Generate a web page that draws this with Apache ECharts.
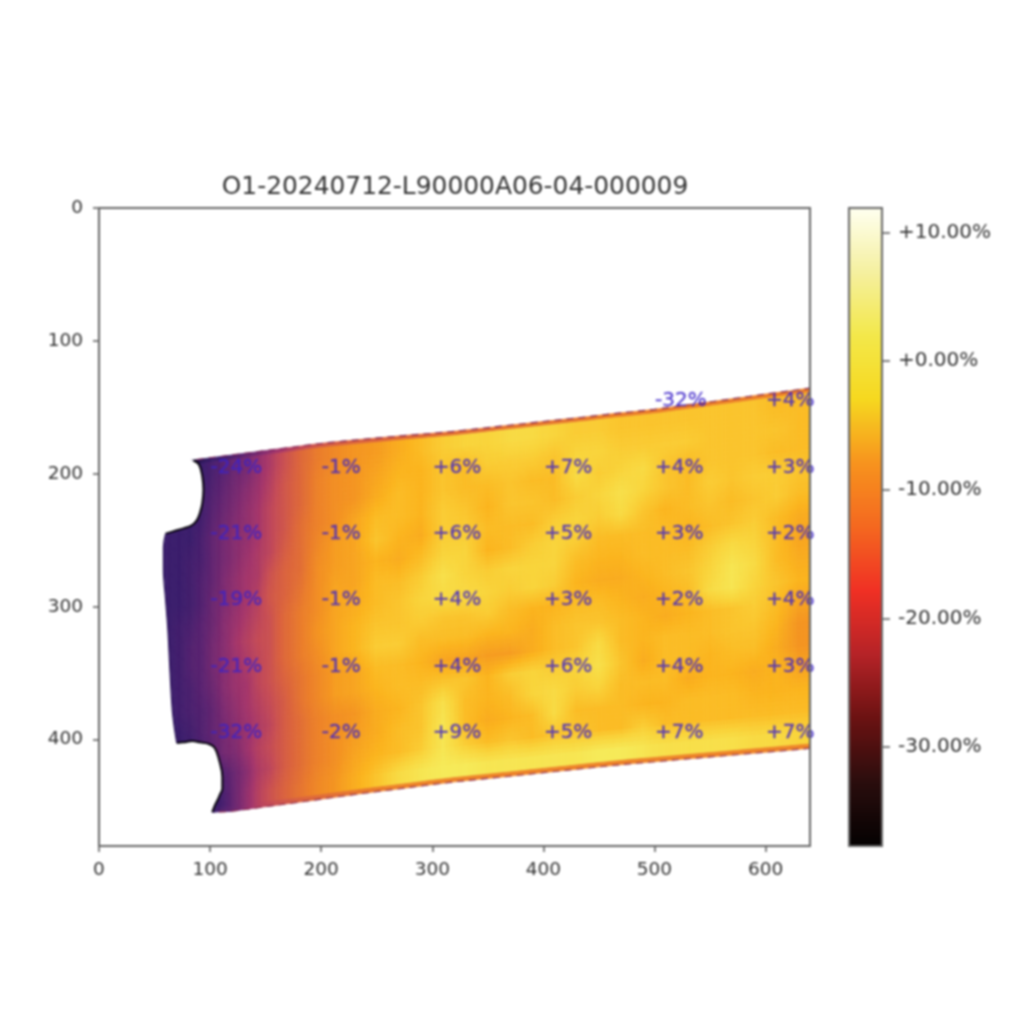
<!DOCTYPE html>
<html><head><meta charset="utf-8">
<style>html,body{margin:0;padding:0;background:#fff}#c{width:1024px;height:1024px;filter:blur(0.9px)}</style>
<script src="https://cdn.jsdelivr.net/npm/echarts@6/dist/echarts.min.js"></script>
</head><body><div id="c"></div>
<script>
const titleText = 'O1-20240712-L90000A06-04-000009';
const xTicks = [0,100,200,300,400,500,600];
const yTicks = [0,100,200,300,400];
const barTicks = [-30,-20,-10,0,10];
const colEdges = [58,68,78,88,98,108,118,128,138,148,160,175,190,205,220,240,260,280,300,320,340,360,380,400,420,440,460,480,500,520,540,560,580,600,620,640];
const topEdge = [192.6,191.5,190.4,189.3,188.2,187.1,186,184.9,183.8,182.7,181.4,179.8,178.1,176.6,175.4,173.8,172.3,170.8,169.5,168,166.2,164.3,162.5,160.6,158.8,157,155,153.3,151.5,149.2,147,144.7,142.4,140,137.8,135.5];
const bottomEdge = [456,456,456,455.5,455,454.3,454,452.9,451.8,450.6,449.3,447.6,445.9,444.1,442.4,440.1,438,435.9,433.7,431.7,430,428.3,426.6,424.8,423.1,421.3,419.6,418,416.6,415.1,413.7,412.3,410.8,409.4,408,406.5];
const rowEdges = [0,.012,.074,.135,.196,.258,.319,.380,.440,.500,.560,.620,.681,.742,.804,.865,.926,.988,1];
const cells = [
[-33,-33,-33,-32,-30,-29,-27,-25,-23,-20,-17,-14,-12,-11,-10,-10,-9,-9,-8,-8,-8,-7,-7,-7,-7,-6,-6,-6,-6,-6,-6,-6,-6,-6,-6],
[-32,-32,-31,-30,-28,-26,-24,-23,-20,-17,-13,-9,-6,-4,-2,-1,1,3,5,6,6,7,7,6,5,5,4,4,4,4,4,4,4,3,3],
[-31,-31,-30,-29,-27,-25,-23,-21,-19,-16,-12,-9,-5,-3,-2,0,2,2,4,3,5,5,5,4,6,6,5,5,5,5,4,4,4,4,3],
[-30,-30,-30,-29,-26,-24,-22,-20,-18,-15,-12,-9,-5,-3,-2,1,3,2,4,3,3,4,3,3,7,5,6,7,4,3,4,4,4,3,3],
[-30,-30,-30,-28,-25,-23,-21,-20,-18,-15,-12,-8,-5,-3,0,3,3,2,5,4,2,4,4,3,5,6,8,6,4,3,5,4,5,5,4],
[-30,-30,-29,-28,-25,-23,-21,-19,-17,-15,-11,-8,-4,-1,0,4,2,1,5,5,3,3,3,5,6,5,7,4,2,3,4,3,4,5,3],
[-30,-30,-29,-27,-25,-22,-20,-18,-17,-13,-10,-8,-3,-1,0,2,1,3,6,6,2,3,5,6,5,3,3,3,3,2,3,4,5,3,1],
[-30,-30,-29,-27,-24,-22,-20,-18,-16,-12,-10,-7,-3,0,0,3,3,5,8,6,5,6,6,6,3,2,2,3,3,3,5,7,6,3,0],
[-30,-29,-28,-26,-24,-21,-19,-17,-15,-13,-9,-6,-3,0,1,3,4,6,7,7,6,5,6,5,2,1,1,2,3,4,6,9,7,3,1],
[-30,-29,-27,-26,-23,-21,-18,-16,-14,-13,-9,-6,-2,0,2,4,4,5,4,4,5,3,2,2,3,3,2,1,2,3,7,9,6,4,2],
[-30,-29,-27,-26,-23,-21,-19,-17,-15,-13,-9,-6,-3,0,2,5,5,3,3,3,2,2,1,3,4,4,3,2,1,2,3,4,5,3,0],
[-30,-29,-28,-26,-24,-21,-19,-18,-15,-13,-10,-7,-4,-1,0,3,3,2,0,0,-1,-1,1,3,4,7,3,2,3,3,3,4,4,2,-2],
[-30,-29,-28,-27,-25,-22,-20,-18,-16,-14,-11,-7,-4,-1,0,2,3,3,4,4,2,5,6,5,6,8,4,1,3,3,2,3,3,1,-2],
[-31,-30,-29,-27,-25,-23,-21,-19,-17,-15,-11,-8,-5,-3,-2,1,2,4,8,3,2,3,6,7,5,6,3,3,3,1,2,2,1,2,0],
[-33,-31,-30,-28,-26,-23,-22,-19,-16,-14,-11,-8,-5,-3,-1,1,3,4,9,3,1,2,3,7,3,3,3,2,2,3,3,3,2,2,2],
[-35,-34,-33,-32,-30,-27,-24,-21,-17,-15,-11,-8,-5,-3,0,2,3,5,9,5,3,4,3,4,4,3,3,5,3,3,3,3,3,3,3],
[-35,-34,-33,-32,-31,-28,-24,-20,-16,-13,-10,-7,-4,-2,1,4,7,9,10,10,9,9,9,9,9,10,10,9,8,8,8,8,7,7,6],
[-34,-33,-33,-32,-30,-27,-24,-20,-16,-14,-12,-10,-9,-8,-7,-6,-5,-5,-5,-5,-5,-5,-5,-5,-5,-5,-5,-5,-5,-5,-5,-5,-5,-5,-5]
];
const maskXs = [50,85,90,93,94,93,91,88,83,76,68,60,58,58,60,62,64,66,68,70,76,84,91,98,104,108,111,111,109,107,104,102,97,50];
const maskYs = [185,190,193,202,212,222,229,235,239,241,243,245,255,272,295,317,350,378,392,402.5,402,401,402,403,406,415,428,437,441,445,450,454.5,463,463];
const notchUpperXs = [85,90,93,94,93,91,88,83,76,68,60];
const notchUpperYs = [190,193,202,212,222,229,235,239,241,243,245];
const notchLowerXs = [70,76,84,91,98,104,108,111,111,109,107,104,102];
const notchLowerYs = [402.5,402,401,402,403,406,415,428,437,441,445,450,454.5];
const leftXs = [60,58,58,60,62,64,66,68,70];
const leftYs = [245,255,272,295,317,350,378,392,402.5];
const labelXs = [500,600,100,200,300,400,500,600,100,200,300,400,500,600,100,200,300,400,500,600,100,200,300,400,500,600,100,200,300,400,500,600];
const labelYs = [150,150,200,200,200,200,200,200,250,250,250,250,250,250,300,300,300,300,300,300,350,350,350,350,350,350,400,400,400,400,400,400];
const labelTexts = ['-32%','+4%','-24%','-1%','+6%','+7%','+4%','+3%','-21%','-1%','+6%','+5%','+3%','+2%','-19%','-1%','+4%','+3%','+2%','+4%','-21%','-1%','+4%','+6%','+4%','+3%','-32%','-2%','+9%','+5%','+7%','+7%'];
const meshColors = ['#1c0f42','#3a1c6b','#5a2270','#7d2a70','#a3346a','#c44a56','#da623d','#ea7c2a','#f49420','#fbb41d','#f9d43a','#f6ea58'];
const barColors = ['#040202','#2a0d0d','#6b1212','#b52327','#f03024','#f4681f','#f7931e','#f6d81f','#f3e84a','#f5f0a0','#fffff0'];

const FONT = 'DejaVu Sans';
const SUB = 5;
const meshData = [];
cells.forEach((row, r) => row.forEach((v, c) => meshData.push([c, r, v])));
const zipXY = (xs, ys) => xs.map((x, i) => [x, ys[i]]);
const edgePoints = (ys, fromX) => zipXY(colEdges, ys).filter(q => q[0] >= fromX);
const edgeLine = (ys, fromX, color, width, dash) => ({
  type:'line', data: edgePoints(ys, fromX), showSymbol:false, silent:true, clip:false, z:4,
  lineStyle:{color, width, type:dash || 'solid'}
});
const outline = (xs, ys, color, width) => ({
  type:'line', data: zipXY(xs, ys), smooth:0.4, showSymbol:false, silent:true, z:5, clip:false,
  lineStyle:{color, width}
});
const lastCol = cells[0].length - 1, lastRow = cells.length - 1;
const mix = (a, b, t) => a + (b - a) * t;
function sampleValue(fc, fr, r){
  // display smoothing of the read cells, as imshow's interpolation does; thin fringe rows stay on their own
  const c0 = Math.max(0, Math.min(lastCol, Math.floor(fc))), c1 = Math.min(lastCol, c0 + 1);
  const tc = Math.max(0, Math.min(1, fc - c0));
  if (r === 0 || r === lastRow) return mix(cells[r][c0], cells[r][c1], tc);
  const rr = Math.max(1, Math.min(lastRow - 1, fr));
  const r0 = Math.floor(rr), r1 = Math.min(lastRow - 1, r0 + 1), tr = rr - r0;
  return mix(mix(cells[r0][c0], cells[r0][c1], tc), mix(cells[r1][c0], cells[r1][c1], tc), tr);
}
function meshPoint(api, ci, ri){
  const i0 = Math.min(colEdges.length - 2, Math.floor(ci)), tx = ci - i0;
  const j0 = Math.min(rowEdges.length - 2, Math.floor(ri)), ty = ri - j0;
  const v = mix(rowEdges[j0], rowEdges[j0 + 1], ty);
  const x = mix(colEdges[i0], colEdges[i0 + 1], tx);
  const t = mix(topEdge[i0], topEdge[i0 + 1], tx), b = mix(bottomEdge[i0], bottomEdge[i0 + 1], tx);
  return api.coord([x, t + v * (b - t)]);
}
const chart = echarts.init(document.getElementById('c'), null, {renderer:'canvas'});
chart.setOption({
  animation:false, backgroundColor:'#fff',
  title:{text:titleText, left:450, top:170, textAlign:'center',
    textStyle:{fontFamily:FONT, fontSize:24.9, fontWeight:'normal', color:'#333'}},
  grid:[
    {left:99, top:208, width:711, height:638, show:true, borderColor:'#666', borderWidth:2, z:8, backgroundColor:'transparent'},
    {left:849, top:208, width:33, height:638, show:true, borderColor:'#666', borderWidth:2, z:8, backgroundColor:'transparent'}
  ],
  xAxis:[
    {type:'value', gridIndex:0, min:0, max:640, position:'bottom', splitLine:{show:false},
     axisLine:{show:false, onZero:false}, axisTick:{show:true, length:6, lineStyle:{color:'#555',width:1.5}, customValues:xTicks},
     axisLabel:{fontFamily:FONT, fontSize:18.5, color:'#333', margin:15, customValues:xTicks}},
    {type:'value', gridIndex:1, min:0, max:1, show:false, axisLine:{onZero:false}}
  ],
  yAxis:[
    {type:'value', gridIndex:0, min:0, max:480, inverse:true, splitLine:{show:false},
     axisLine:{show:false, onZero:false}, axisTick:{show:true, length:6, lineStyle:{color:'#555',width:1.5}, customValues:yTicks},
     axisLabel:{fontFamily:FONT, fontSize:18.5, color:'#333', margin:16, customValues:yTicks}},
    {type:'value', gridIndex:1, min:-37.7, max:11.9, position:'right', splitLine:{show:false},
     axisLine:{show:false, onZero:false}, axisTick:{show:true, length:8, lineStyle:{color:'#555',width:1.5}, customValues:barTicks},
     axisLabel:{fontFamily:FONT, fontSize:20, color:'#333', margin:16, customValues:barTicks,
       formatter:v => (v>=0?'+':'') + v.toFixed(2) + '%'}}
  ],
  visualMap:[
    {type:'continuous', seriesIndex:[], min:-37.7, max:11.9, show:true, calculable:false, hoverLink:false, padding:0,
     left:849, top:208, itemWidth:33, itemHeight:638, inRange:{color:barColors}, outOfRange:{color:barColors}}
  ],
  series:[
    {type:'custom', coordinateSystem:'cartesian2d', xAxisIndex:0, yAxisIndex:0, data:meshData, silent:true, z:2,
     progressive:0, encode:{x:0, y:1},
     renderItem(p, api){
       const c = api.value(0), r = api.value(1);
       const thin = (r === 0 || r === lastRow);
       const ny = thin ? 1 : SUB, children = [];
       for (let i = 0; i < SUB; i++) for (let j = 0; j < ny; j++){
         const a = c + i/SUB, b = c + (i+1)/SUB, d = r + j/ny, e = r + (j+1)/ny;
         const val = sampleValue(a + .5/SUB - .5, d + .5/ny - .5, r);
         const col = echarts.color.lerp(Math.max(0, Math.min(1, (val + 34) / 44)), meshColors);
         children.push({type:'polygon',
           shape:{points:[meshPoint(api,a,d),meshPoint(api,b,d),meshPoint(api,b,e),meshPoint(api,a,e)]},
           style:{fill:col, stroke:col, lineWidth:0.7}});
       }
       return {type:'group', children};
     }},
    {type:'custom', coordinateSystem:'cartesian2d', xAxisIndex:0, yAxisIndex:0, data:[[0]], silent:true, z:3,
     clip:false, encode:{x:0},
     renderItem(p, api){
       return {type:'polygon', shape:{points:zipXY(maskXs, maskYs).map(q => api.coord(q))}, style:{fill:'#fff'}};
     }},
    edgeLine(topEdge, 88, '#7a1f55', 1.1, [7,5]),
    edgeLine(bottomEdge, 108, '#8a2a50', 1.1, [7,5]),
    outline(notchUpperXs, notchUpperYs, '#07040c', 2),
    outline(notchLowerXs, notchLowerYs, '#07040c', 2),
    outline(leftXs, leftYs, '#2a1458', 1.2),
    {type:'scatter', xAxisIndex:0, yAxisIndex:0, symbolSize:1, itemStyle:{color:'transparent'}, silent:true, z:6, clip:false,
     data: labelXs.map((x,i) => [x, labelYs[i], labelTexts[i]]),
     label:{show:true, position:[1,4], align:'left', verticalAlign:'bottom',
       formatter:p => p.value[2], fontFamily:FONT, fontSize:20, color:'rgb(60,35,200)',
       textBorderColor:'rgb(60,35,200)', textBorderWidth:0.4}}
  ]
});
</script></body></html>
